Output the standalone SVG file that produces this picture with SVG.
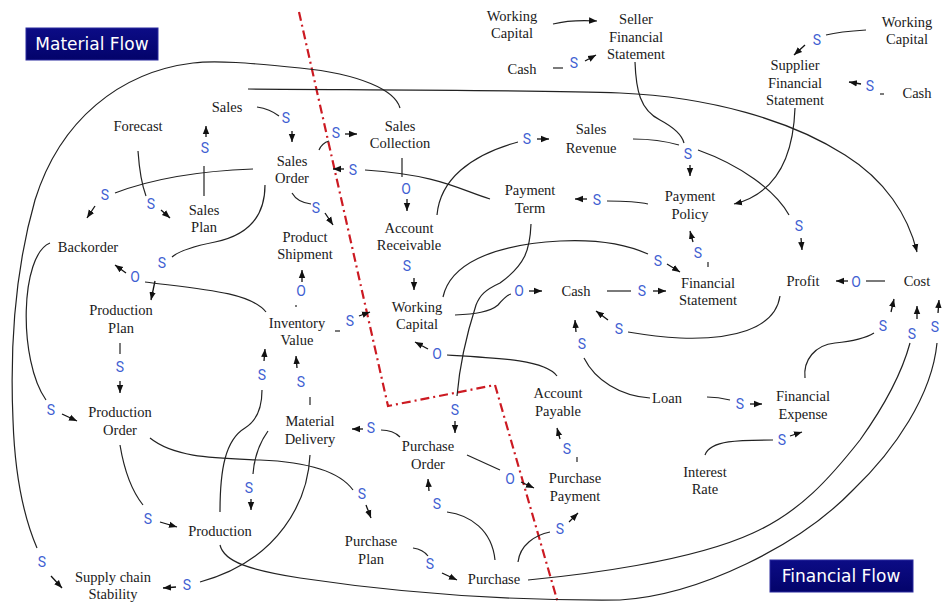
<svg xmlns="http://www.w3.org/2000/svg" width="943" height="603" viewBox="0 0 943 603">
  <defs>
    <marker id="ah" viewBox="0 0 10 10" refX="10" refY="5" markerWidth="8" markerHeight="8" markerUnits="userSpaceOnUse" orient="auto">
      <path d="M0,1 L10,5 L0,9 z" fill="#111"/>
    </marker>
    <linearGradient id="navy" x1="0" y1="0" x2="0" y2="1">
      <stop offset="0" stop-color="#0c0c86"/>
      <stop offset="1" stop-color="#03036a"/>
    </linearGradient>
    <style>
      .lbl { font-family: "Liberation Serif", "Times New Roman", serif; font-size: 14.5px; fill: #1a1a1a; text-anchor: middle; }
      .pol { font-family: Roboto, "DejaVu Sans", sans-serif; font-size: 14px; fill: #3f5fd2; text-anchor: middle; }
      .ln { fill: none; stroke: #222; stroke-width: 1.2; }
      .ar { fill: none; stroke: #111; stroke-width: 1.3; marker-end: url(#ah); }
      .arl { fill: none; stroke: #222; stroke-width: 1.2; marker-end: url(#ah); }
      .border { fill: none; stroke: #cc1a22; stroke-width: 2.2; stroke-dasharray: 9 4 2 4; }
      .tag { fill: url(#navy); stroke: #2b2b9e; stroke-width: 1; }
      .tagtxt { font-family: "DejaVu Sans", Verdana, sans-serif; font-size: 17px; fill: #ffffff; text-anchor: middle; }
    </style>
  </defs>

  <rect width="943" height="603" fill="#ffffff"/>

  <!-- boundary between material and financial domains -->
  <polyline class="border" points="299,12 388,406 495,385 558,603"/>

  <!-- domain tags -->
  <g id="tag-material">
    <rect class="tag" x="26" y="28" width="132" height="32"/>
    <text class="tagtxt" x="92" y="50">Material Flow</text>
  </g>
  <g id="tag-financial">
    <rect class="tag" x="770" y="560" width="143" height="32"/>
    <text class="tagtxt" x="841" y="582">Financial Flow</text>
  </g>

  <!-- causal links -->
  <g id="connectors">
    <!-- Sales -> Sales Order -->
    <path class="ln" d="M257,107 Q270,109 279,116"/>
    <text class="pol" x="286" y="123">S</text>
    <path class="ar" d="M292,131 L292,142"/>

    <!-- Sales Plan -> Sales -->
    <path class="ln" d="M204,196 L204,166"/>
    <text class="pol" x="205" y="153">S</text>
    <path class="ar" d="M206,137 L206,126"/>

    <!-- Forecast -> Sales Plan -->
    <path class="ln" d="M138,151 Q140,180 146,196"/>
    <text class="pol" x="151" y="209">S</text>
    <path class="ar" d="M161,210 L170,218"/>

    <!-- Sales Order -> Backorder -->
    <path class="ln" d="M253,169 Q170,172 115,193"/>
    <text class="pol" x="105" y="200">S</text>
    <path class="ar" d="M95,206 L87,218"/>

    <!-- Sales Order -> Production Plan -->
    <path class="ln" d="M265,185 C265,215 250,235 215,242 C195,246 180,250 172,257"/>
    <text class="pol" x="162" y="268">S</text>
    <path class="ar" d="M155,281 L151,300"/>

    <!-- Inventory Value -> Backorder -->
    <path class="ln" d="M145,282 C200,289 250,292 266,312"/>
    <text class="pol" x="135" y="282">O</text>
    <path class="ar" d="M126,273 L115,265"/>

    <!-- Production Plan -> Production Order -->
    <path class="ln" d="M120,343 L120,354"/>
    <text class="pol" x="120" y="372">S</text>
    <path class="ar" d="M120,381 L120,393"/>

    <!-- Backorder -> Production Order -->
    <path class="ln" d="M50,243 C20,255 18,360 46,400"/>
    <text class="pol" x="51" y="415">S</text>
    <path class="ar" d="M62,414 L77,421"/>

    <!-- Sales Collection -> Supply chain Stability -->
    <path class="ln" d="M400,108 C395,90 360,74 300,68 C250,63 215,60 193,63 C120,72 60,120 35,200 C15,270 10,350 13,420 C15,480 25,520 37,548"/>
    <text class="pol" x="42" y="567">S</text>
    <path class="ar" d="M51,576 L62,588"/>

    <!-- Production Order -> Production -->
    <path class="ln" d="M120,445 C125,475 135,495 143,505"/>
    <text class="pol" x="148" y="524">S</text>
    <path class="ar" d="M160,522 L177,527"/>

    <!-- Production Order -> Purchase Plan -->
    <path class="ln" d="M150,438 C175,458 215,458 260,460 C310,462 340,472 353,490"/>
    <text class="pol" x="362" y="499">S</text>
    <path class="ar" d="M366,505 L371,518"/>

    <!-- Production -> Inventory Value -->
    <path class="ln" d="M220,512 C220,470 225,440 245,428 C258,420 262,405 262,390"/>
    <text class="pol" x="262" y="380">S</text>
    <path class="ar" d="M264,361 L265,349"/>

    <!-- Material Delivery -> Production -->
    <path class="ln" d="M268,431 C258,445 254,460 253,474"/>
    <text class="pol" x="249" y="493">S</text>
    <path class="ar" d="M251,499 L251,510"/>

    <!-- Material Delivery -> Inventory Value -->
    <path class="ln" d="M310,397 L310,405"/>
    <text class="pol" x="301" y="387">S</text>
    <path class="ar" d="M297,368 L296,356"/>

    <!-- Material Delivery -> Supply chain Stability -->
    <path class="ln" d="M310,455 C308,500 280,560 200,582"/>
    <text class="pol" x="187" y="590">S</text>
    <path class="ar" d="M176,587 L163,588"/>

    <!-- Production -> Cost -->
    <path class="ln" d="M220,545 C224,562 250,570 300,578 C400,593 500,601 620,600 C700,595 800,545 853,490 C895,450 932,395 937,343"/>
    <text class="pol" x="935" y="332">S</text>
    <path class="ar" d="M938,313 L939,300"/>

    <!-- Purchase -> Cost -->
    <path class="ln" d="M528,580 C580,575 690,562 753,533 C800,512 830,478 860,440 C880,412 900,380 910,343"/>
    <text class="pol" x="912" y="339">S</text>
    <path class="ar" d="M917,319 L917,306"/>

    <!-- Financial Expense -> Cost -->
    <path class="ln" d="M805,378 C803,360 815,345 835,343 C855,341 866,338 874,333"/>
    <text class="pol" x="883" y="331">S</text>
    <path class="ar" d="M891,312 L894,299"/>

    <!-- Purchase Plan -> Purchase -->
    <path class="ln" d="M413,548 C420,549 425,552 428,556"/>
    <text class="pol" x="430" y="569">S</text>
    <path class="ar" d="M442,573 L457,580"/>

    <!-- Purchase -> Purchase Order -->
    <path class="ln" d="M495,560 C492,530 470,515 447,512"/>
    <text class="pol" x="437" y="509">S</text>
    <path class="ar" d="M429,491 L428,479"/>

    <!-- Purchase -> Purchase Payment -->
    <path class="ln" d="M518,562 C520,545 535,535 550,532"/>
    <text class="pol" x="560" y="534">S</text>
    <path class="ar" d="M569,522 L578,513"/>

    <!-- Purchase Order -> Purchase Payment -->
    <path class="ln" d="M467,455 L500,470"/>
    <text class="pol" x="510" y="484">O</text>
    <path class="ar" d="M521,482 L534,488"/>

    <!-- Purchase Order -> Material Delivery -->
    <path class="ln" d="M400,437 C395,432 388,430 381,430"/>
    <text class="pol" x="371" y="433">S</text>
    <path class="ar" d="M363,429 L352,429"/>

    <!-- Payment Term -> Purchase Order -->
    <path class="ln" d="M531,224 C530,250 525,265 500,283 C485,290 480,295 476,305 C468,330 460,360 457,396"/>
    <text class="pol" x="455" y="415">S</text>
    <path class="ar" d="M455,421 L455,433"/>

    <!-- Purchase Payment -> Account Payable -->
    <path class="ln" d="M577,457 L577,462"/>
    <text class="pol" x="567" y="454">S</text>
    <path class="ar" d="M560,439 L557,428"/>

    <!-- Account Payable -> Working Capital -->
    <path class="ln" d="M557,376 C545,360 500,358 447,355"/>
    <text class="pol" x="437" y="359">O</text>
    <path class="ar" d="M428,349 L415,342"/>

    <!-- Inventory Value -> Working Capital -->
    <path class="ln" d="M335,331 L340,331"/>
    <text class="pol" x="350" y="326">S</text>
    <path class="ar" d="M359,316 L370,312"/>

    <!-- Account Receivable -> Working Capital -->
    <text class="pol" x="407" y="271">S</text>
    <path class="ar" d="M414,278 L414,290"/>

    <!-- Sales Collection -> Account Receivable -->
    <path class="ln" d="M402,158 L402,177"/>
    <text class="pol" x="406" y="194">O</text>
    <path class="ar" d="M407,199 L407,211"/>

    <!-- Sales Order -> Sales Collection -->
    <path class="ln" d="M319,150 Q322,143 329,141"/>
    <text class="pol" x="336" y="138">S</text>
    <path class="ar" d="M345,134 L357,134"/>

    <!-- Payment Term -> Sales Order -->
    <path class="ln" d="M490,199 C460,190 440,175 365,170"/>
    <text class="pol" x="353" y="175">S</text>
    <path class="ar" d="M344,169 L333,169"/>

    <!-- Account Receivable -> Sales Revenue -->
    <path class="ln" d="M437,215 C440,180 470,155 518,142"/>
    <text class="pol" x="527" y="144">S</text>
    <path class="ar" d="M537,139 L549,139"/>

    <!-- Sales Revenue -> Payment Policy -->
    <path class="ln" d="M633,139 C650,139 665,141 679,145"/>
    <text class="pol" x="688" y="159">S</text>
    <path class="ar" d="M690,165 L690,176"/>

    <!-- Seller Financial Statement -> Payment Policy -->
    <path class="ln" d="M635,62 C636,90 640,110 660,120 C675,128 682,135 684,143"/>

    <!-- Sales Revenue -> Profit -->
    <path class="ln" d="M698,150 C740,165 775,190 789,215"/>
    <text class="pol" x="799" y="231">S</text>
    <path class="ar" d="M801,238 L802,250"/>

    <!-- Payment Policy -> Payment Term -->
    <path class="ln" d="M648,204 C635,201 620,201 607,201"/>
    <text class="pol" x="597" y="205">S</text>
    <path class="ar" d="M587,199 L575,199"/>

    <!-- Supplier Financial Statement -> Payment Policy -->
    <path class="arl" d="M795,108 C793,165 770,195 734,204"/>

    <!-- Financial Statement -> Payment Policy -->
    <path class="ln" d="M708,262 L708,267"/>
    <text class="pol" x="698" y="258">S</text>
    <path class="ar" d="M693,242 L690,231"/>

    <!-- Working Capital -> Financial Statement -->
    <path class="ln" d="M443,297 C450,265 490,245 560,241 C600,239 630,246 648,254"/>
    <text class="pol" x="658" y="266">S</text>
    <path class="ar" d="M667,264 L680,272"/>

    <!-- Cash -> Financial Statement -->
    <path class="ln" d="M607,291 L631,291"/>
    <text class="pol" x="642" y="296">S</text>
    <path class="ar" d="M653,291 L666,291"/>

    <!-- Working Capital -> Cash -->
    <path class="ln" d="M455,315 C475,314 490,312 498,305 C503,299 507,295 511,294"/>
    <text class="pol" x="519" y="296">O</text>
    <path class="ar" d="M529,291 L542,291"/>

    <!-- Profit -> Cash -->
    <path class="ln" d="M780,296 C775,330 730,340 680,338 C660,337 640,334 628,332"/>
    <text class="pol" x="619" y="334">S</text>
    <path class="ar" d="M608,320 L596,311"/>

    <!-- Loan -> Cash -->
    <path class="ln" d="M650,398 C620,396 595,380 584,358"/>
    <text class="pol" x="582" y="349">S</text>
    <path class="ar" d="M576,332 L575,320"/>

    <!-- Loan -> Financial Expense -->
    <path class="ln" d="M707,397 C715,397 722,398 730,400"/>
    <text class="pol" x="740" y="409">S</text>
    <path class="ar" d="M750,404 L762,404"/>

    <!-- Interest Rate -> Financial Expense -->
    <path class="ln" d="M705,455 C710,440 740,440 773,440"/>
    <text class="pol" x="782" y="445">S</text>
    <path class="ar" d="M790,436 L802,432"/>

    <!-- Cost -> Profit -->
    <path class="ln" d="M885,281 L866,281"/>
    <text class="pol" x="856" y="287">O</text>
    <path class="ar" d="M848,281 L836,281"/>

    <!-- Sales -> Cost -->
    <path class="arl" d="M248,89 C400,90 540,90 620,93 C710,97 790,120 845,155 C885,180 908,215 917,252"/>

    <!-- Working Capital -> Seller Financial Statement -->
    <path class="arl" d="M553,24 C565,21 580,20 597,21"/>

    <!-- Cash -> Seller Financial Statement -->
    <path class="ln" d="M553,68 L563,68"/>
    <text class="pol" x="574" y="68">S</text>
    <path class="ar" d="M585,61 L596,55"/>

    <!-- Working Capital -> Supplier Financial Statement -->
    <path class="ln" d="M866,30 C850,31 838,32 826,35"/>
    <text class="pol" x="817" y="45">S</text>
    <path class="ar" d="M805,45 L794,55"/>

    <!-- Cash -> Supplier Financial Statement -->
    <path class="ln" d="M880,94 L884,94"/>
    <text class="pol" x="870" y="91">S</text>
    <path class="ar" d="M861,84 L849,82"/>

    <!-- Sales Order -> Product Shipment -->
    <path class="ln" d="M292,193 C296,200 303,203 311,204"/>
    <text class="pol" x="316" y="213">S</text>
    <path class="ar" d="M325,213 L333,225"/>

    <!-- Inventory Value -> Product Shipment -->
    <path class="ln" d="M296,305 L296,307"/>
    <text class="pol" x="301" y="296">O</text>
    <path class="ar" d="M302,282 L302,270"/>
  </g>

  <!-- variables -->
  <g id="n-sales"><text class="lbl" x="227" y="112">Sales</text></g>
  <g id="n-forecast"><text class="lbl" x="138" y="131">Forecast</text></g>
  <g id="n-sales-order"><text class="lbl" x="292" y="166">Sales</text><text class="lbl" x="292" y="183">Order</text></g>
  <g id="n-sales-plan"><text class="lbl" x="204" y="215">Sales</text><text class="lbl" x="204" y="232">Plan</text></g>
  <g id="n-backorder"><text class="lbl" x="88" y="252">Backorder</text></g>
  <g id="n-product-shipment"><text class="lbl" x="305" y="242">Product</text><text class="lbl" x="305" y="259">Shipment</text></g>
  <g id="n-production-plan"><text class="lbl" x="121" y="315">Production</text><text class="lbl" x="121" y="333">Plan</text></g>
  <g id="n-inventory-value"><text class="lbl" x="297" y="328">Inventory</text><text class="lbl" x="297" y="345">Value</text></g>
  <g id="n-production-order"><text class="lbl" x="120" y="417">Production</text><text class="lbl" x="120" y="435">Order</text></g>
  <g id="n-material-delivery"><text class="lbl" x="310" y="426">Material</text><text class="lbl" x="310" y="444">Delivery</text></g>
  <g id="n-production"><text class="lbl" x="220" y="536">Production</text></g>
  <g id="n-supply-chain-stability"><text class="lbl" x="113" y="582">Supply chain</text><text class="lbl" x="113" y="599">Stability</text></g>
  <g id="n-purchase-plan"><text class="lbl" x="371" y="546">Purchase</text><text class="lbl" x="371" y="564">Plan</text></g>
  <g id="n-purchase"><text class="lbl" x="494" y="584">Purchase</text></g>
  <g id="n-purchase-order"><text class="lbl" x="428" y="451">Purchase</text><text class="lbl" x="428" y="469">Order</text></g>
  <g id="n-purchase-payment"><text class="lbl" x="575" y="483">Purchase</text><text class="lbl" x="575" y="501">Payment</text></g>
  <g id="n-account-payable"><text class="lbl" x="558" y="398">Account</text><text class="lbl" x="558" y="416">Payable</text></g>
  <g id="n-sales-collection"><text class="lbl" x="400" y="131">Sales</text><text class="lbl" x="400" y="148">Collection</text></g>
  <g id="n-account-receivable"><text class="lbl" x="409" y="233">Account</text><text class="lbl" x="409" y="250">Receivable</text></g>
  <g id="n-working-capital"><text class="lbl" x="417" y="312">Working</text><text class="lbl" x="417" y="329">Capital</text></g>
  <g id="n-payment-term"><text class="lbl" x="530" y="195">Payment</text><text class="lbl" x="530" y="213">Term</text></g>
  <g id="n-sales-revenue"><text class="lbl" x="591" y="134">Sales</text><text class="lbl" x="591" y="153">Revenue</text></g>
  <g id="n-payment-policy"><text class="lbl" x="690" y="201">Payment</text><text class="lbl" x="690" y="219">Policy</text></g>
  <g id="n-cash"><text class="lbl" x="576" y="296">Cash</text></g>
  <g id="n-financial-statement"><text class="lbl" x="708" y="288">Financial</text><text class="lbl" x="708" y="305">Statement</text></g>
  <g id="n-profit"><text class="lbl" x="803" y="286">Profit</text></g>
  <g id="n-cost"><text class="lbl" x="917" y="286">Cost</text></g>
  <g id="n-loan"><text class="lbl" x="667" y="403">Loan</text></g>
  <g id="n-financial-expense"><text class="lbl" x="803" y="401">Financial</text><text class="lbl" x="803" y="419">Expense</text></g>
  <g id="n-interest-rate"><text class="lbl" x="705" y="477">Interest</text><text class="lbl" x="705" y="494">Rate</text></g>
  <g id="n-working-capital-seller"><text class="lbl" x="512" y="21">Working</text><text class="lbl" x="512" y="38">Capital</text></g>
  <g id="n-cash-seller"><text class="lbl" x="522" y="74">Cash</text></g>
  <g id="n-seller-financial-statement"><text class="lbl" x="636" y="24">Seller</text><text class="lbl" x="636" y="42">Financial</text><text class="lbl" x="636" y="59">Statement</text></g>
  <g id="n-working-capital-supplier"><text class="lbl" x="907" y="27">Working</text><text class="lbl" x="907" y="44">Capital</text></g>
  <g id="n-supplier-financial-statement"><text class="lbl" x="795" y="70">Supplier</text><text class="lbl" x="795" y="88">Financial</text><text class="lbl" x="795" y="105">Statement</text></g>
  <g id="n-cash-supplier"><text class="lbl" x="917" y="98">Cash</text></g>
</svg>
